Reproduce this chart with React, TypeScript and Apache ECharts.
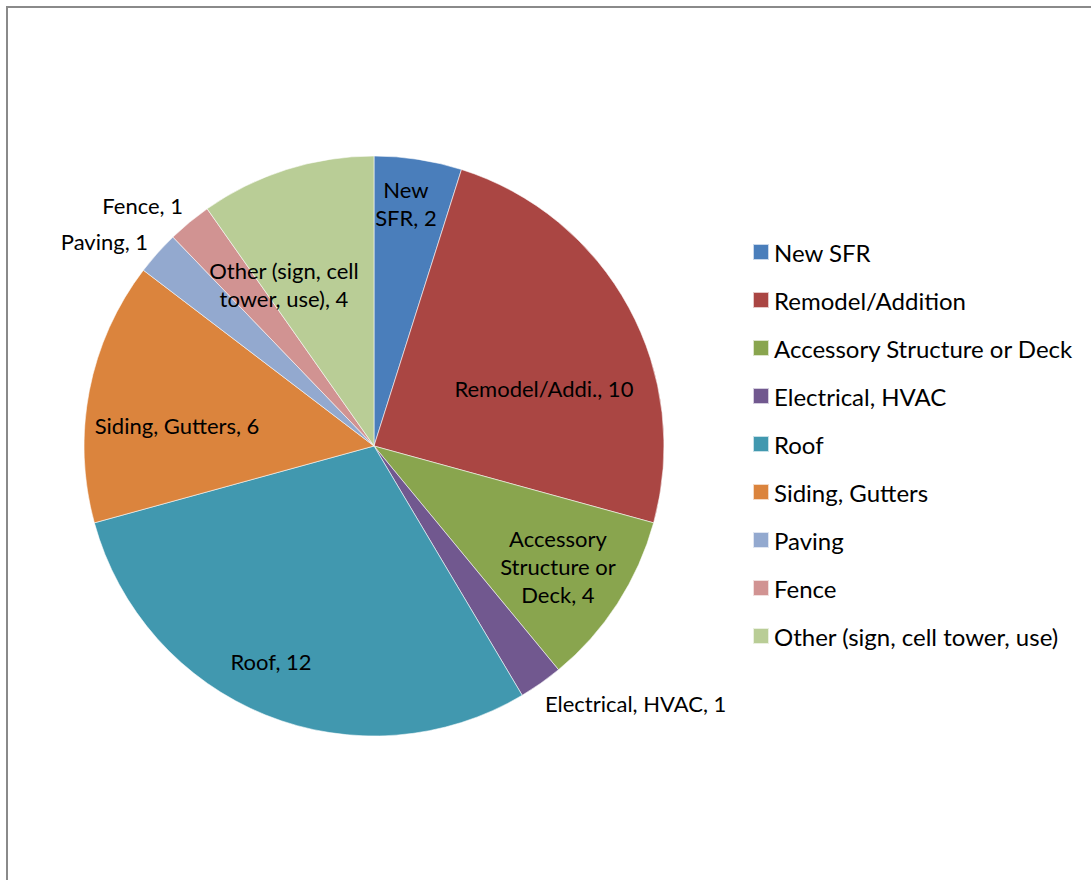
import React, { useEffect, useRef } from "react";
import * as echarts from "echarts";

const categories = [
  "New SFR",
  "Remodel/Addition",
  "Accessory Structure or Deck",
  "Electrical, HVAC",
  "Roof",
  "Siding, Gutters",
  "Paving",
  "Fence",
  "Other (sign, cell tower, use)",
];
const counts = [2, 10, 4, 1, 12, 6, 1, 1, 4];
const sliceLabels = [
  "New\nSFR",
  "Remodel/Addi.",
  "Accessory\nStructure or\nDeck",
  "Electrical, HVAC",
  "Roof",
  "Siding, Gutters",
  "Paving",
  "Fence",
  "Other (sign, cell\ntower, use)",
];
const colors = [
  "#4A7EBB",
  "#AA4643",
  "#89A54E",
  "#71588F",
  "#4198AF",
  "#DB843D",
  "#93A9CF",
  "#D19392",
  "#B9CD96",
];

// label placement (style): radius fraction, angular nudge (deg), alignment
const labelSpots = [
  { r: 0.845, nudge: -1.3, align: "center" },
  { r: 0.619, nudge: 9.7, align: "center" },
  { r: 0.759, nudge: 0.4, align: "center" },
  { r: 1.067, nudge: 1.6, align: "left" },
  { r: 0.825, nudge: 3.55, align: "center" },
  { r: 0.683, nudge: -4.9, align: "center" },
  { r: 1.05, nudge: 0.4, align: "right" },
  { r: 1.06, nudge: 1.1, align: "right" },
  { r: 0.639, nudge: -11.5, align: "center" },
];

const CX = 374;
const CY = 446;
const R = 290;
const FONT = "Lato";

export default function App() {
  const ref = useRef<HTMLDivElement>(null);
  useEffect(() => {
    if (!ref.current) return;
    const chart = echarts.init(ref.current, null, { renderer: "svg" });
    const total = counts.reduce((a, b) => a + b, 0);
    const mids: number[] = [];
    let cum = 0;
    counts.forEach((v) => {
      mids.push(((cum + v / 2) / total) * 360);
      cum += v;
    });
    chart.setOption({
      animation: false,
      backgroundColor: "#fff",
      color: colors,
      graphic: [
        {
          type: "rect",
          shape: { x: 7, y: 7, width: 1300, height: 1100 },
          style: { fill: "none", stroke: "#8a8a8a", lineWidth: 2 },
          silent: true,
        },
      ],
      legend: {
        orient: "vertical",
        left: 752,
        top: 240,
        padding: 0,
        icon: "rect",
        itemWidth: 16,
        itemHeight: 16,
        itemGap: 24,
        data: categories,
        textStyle: {
          fontFamily: FONT,
          fontSize: 24,
          lineHeight: 24,
          color: "#000",
        },
      },
      series: [
        {
          type: "pie",
          center: [CX, CY],
          radius: R,
          startAngle: 90,
          clockwise: true,
          avoidLabelOverlap: false,
          itemStyle: { borderColor: "rgba(255,255,255,0.7)", borderWidth: 0.8 },
          label: {
            show: true,
            position: "inside",
            fontFamily: FONT,
            fontSize: 22,
            lineHeight: 28,
            color: "#000",
            formatter: (p: any) => `${sliceLabels[p.dataIndex]}, ${p.value}`,
          },
          labelLine: { show: false },
          emphasis: { disabled: true },
          labelLayout: (p: any) => {
            const s = labelSpots[p.dataIndex];
            const a = ((mids[p.dataIndex] + s.nudge) * Math.PI) / 180;
            return {
              x: CX + R * s.r * Math.sin(a),
              y: CY - R * s.r * Math.cos(a),
              align: s.align,
              verticalAlign: "middle",
            };
          },
          data: categories.map((name, i) => ({ name, value: counts[i] })),
        },
      ],
    });
    return () => chart.dispose();
  }, []);
  return (
    <div
      ref={ref}
      style={{ position: "absolute", left: 0, top: 0, width: 1091, height: 880 }}
    />
  );
}
